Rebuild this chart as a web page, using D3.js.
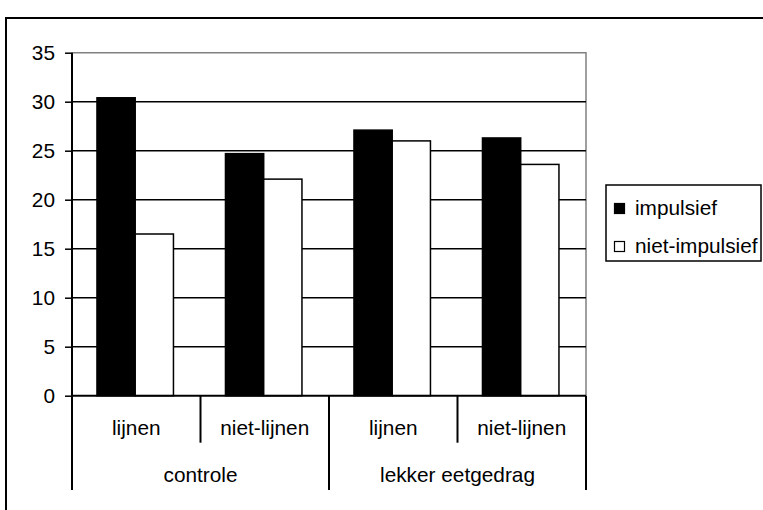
<!DOCTYPE html>
<html>
<head>
<meta charset="utf-8">
<script src="https://cdn.jsdelivr.net/npm/d3@7/dist/d3.min.js"></script>
<style>
  html, body { margin: 0; padding: 0; background: #fff; overflow: hidden; }
  svg { display: block; }
  text { font-family: Arial, "Liberation Sans", sans-serif; fill: #000; }
</style>
</head>
<body>
<svg id="chart" width="763" height="510"></svg>
<script>
// Groups and sub-categories along the category axis
const groups = ["controle", "lekker eetgedrag"];
const subgroups = ["lijnen", "niet-lijnen"];
const series = ["impulsief", "niet-impulsief"];
const seriesFill = ["#000000", "#ffffff"];

// Values per bar, ordered controle/lijnen, controle/niet-lijnen, lekker/lijnen, lekker/niet-lijnen
const impulsief = [30.4, 24.7, 27.1, 26.3];
const nietImpulsief = [16.5, 22.1, 26.0, 23.6];

const yTicks = [0, 5, 10, 15, 20, 25, 30, 35];

// Build the category rows from the arrays above
const cells = [];
groups.forEach((g, gi) => subgroups.forEach((s, si) => {
  const i = gi * subgroups.length + si;
  cells.push({ key: g + "|" + s, group: g, sub: s, values: [impulsief[i], nietImpulsief[i]] });
}));

const svg = d3.select("#chart");
const plot = { left: 72, right: 586, top: 52.7, bottom: 395.7 };
const fontSize = 20.8;

// Outer chart frame
svg.append("rect")
  .attr("x", 6).attr("y", 18)
  .attr("width", 800).attr("height", 600)
  .attr("fill", "none").attr("stroke", "#000").attr("stroke-width", 2);

const x0 = d3.scaleBand().domain(cells.map(d => d.key)).range([plot.left, plot.right]).padding(0);
const x1 = d3.scaleBand().domain(series).range([0, x0.bandwidth()])
  .paddingInner(0).paddingOuter(0.68).align(0.48);
const y = d3.scaleLinear().domain([0, 35]).range([plot.bottom, plot.top]);

// Plot area border (grey, top and right)
svg.append("path")
  .attr("d", `M${plot.left},${plot.top}H${plot.right}V${plot.bottom}`)
  .attr("fill", "none").attr("stroke", "#808080").attr("stroke-width", 1.5);

// Horizontal gridlines
svg.append("g").selectAll("line")
  .data(yTicks.filter(t => t > 0 && t < 35))
  .join("line")
  .attr("x1", plot.left).attr("x2", plot.right)
  .attr("y1", d => y(d)).attr("y2", d => y(d))
  .attr("stroke", "#000").attr("stroke-width", 1.5);

// Bars
const cellG = svg.append("g").selectAll("g")
  .data(cells)
  .join("g")
  .attr("transform", d => `translate(${x0(d.key)},0)`);

cellG.selectAll("rect")
  .data(d => d.values.map((v, i) => ({ series: series[i], value: v, i })))
  .join("rect")
  .attr("x", d => x1(d.series))
  .attr("width", x1.bandwidth())
  .attr("y", d => y(d.value))
  .attr("height", d => y(0) - y(d.value))
  .attr("fill", d => seriesFill[d.i])
  .attr("stroke", "#000").attr("stroke-width", 1.5);

// Value axis
const yAxis = d3.axisLeft(y).tickValues(yTicks).tickSize(7).tickPadding(10).tickSizeOuter(0);
const yg = svg.append("g").attr("transform", `translate(${plot.left},0)`).call(yAxis);
yg.select(".domain").remove();
yg.selectAll(".tick line").attr("stroke", "#000").attr("stroke-width", 1.5);
yg.selectAll(".tick text").attr("font-size", fontSize).attr("font-family", "Arial, 'Liberation Sans', sans-serif");

// Axis lines: vertical value axis running down through the label rows, and the baseline
const rowBottom1 = 442.7, rowBottom2 = 490;
svg.append("line")
  .attr("x1", plot.left).attr("x2", plot.left)
  .attr("y1", plot.top).attr("y2", rowBottom2)
  .attr("stroke", "#000").attr("stroke-width", 2);
svg.append("line")
  .attr("x1", plot.left).attr("x2", plot.right)
  .attr("y1", y(0)).attr("y2", y(0))
  .attr("stroke", "#000").attr("stroke-width", 2);

// Dividers between sub-categories and between groups
const boundaries = cells.map(d => x0(d.key)).concat([plot.right]);
svg.append("g").selectAll("line")
  .data(boundaries.slice(1))
  .join("line")
  .attr("x1", d => d).attr("x2", d => d)
  .attr("y1", y(0))
  .attr("y2", (d, i) => ((i + 1) % subgroups.length === 0) ? rowBottom2 : rowBottom1)
  .attr("stroke", "#000").attr("stroke-width", 2);

// Sub-category labels
svg.append("g").selectAll("text")
  .data(cells)
  .join("text")
  .attr("x", d => x0(d.key) + x0.bandwidth() / 2)
  .attr("y", 434.5)
  .attr("text-anchor", "middle")
  .attr("font-size", fontSize)
  .text(d => d.sub);

// Group labels
svg.append("g").selectAll("text")
  .data(groups)
  .join("text")
  .attr("x", (g, gi) => {
    const first = x0(cells[gi * subgroups.length].key);
    const last = x0(cells[gi * subgroups.length + subgroups.length - 1].key) + x0.bandwidth();
    return (first + last) / 2;
  })
  .attr("y", 481.5)
  .attr("text-anchor", "middle")
  .attr("font-size", fontSize)
  .text(d => d);

// Legend
const legend = svg.append("g").attr("transform", "translate(606,185)");
legend.append("rect")
  .attr("width", 155).attr("height", 76)
  .attr("fill", "#fff").attr("stroke", "#000").attr("stroke-width", 1.5);
const item = legend.selectAll("g.item")
  .data(series)
  .join("g").attr("class", "item")
  .attr("transform", (d, i) => `translate(0,${18 + i * 38})`);
item.append("rect")
  .attr("x", 8.5).attr("y", 0.5)
  .attr("width", 10).attr("height", 10)
  .attr("fill", (d, i) => seriesFill[i])
  .attr("stroke", "#000").attr("stroke-width", 1.2);
item.append("text")
  .attr("x", 29).attr("y", 12)
  .attr("font-size", fontSize)
  .text(d => d);
</script>
</body>
</html>
